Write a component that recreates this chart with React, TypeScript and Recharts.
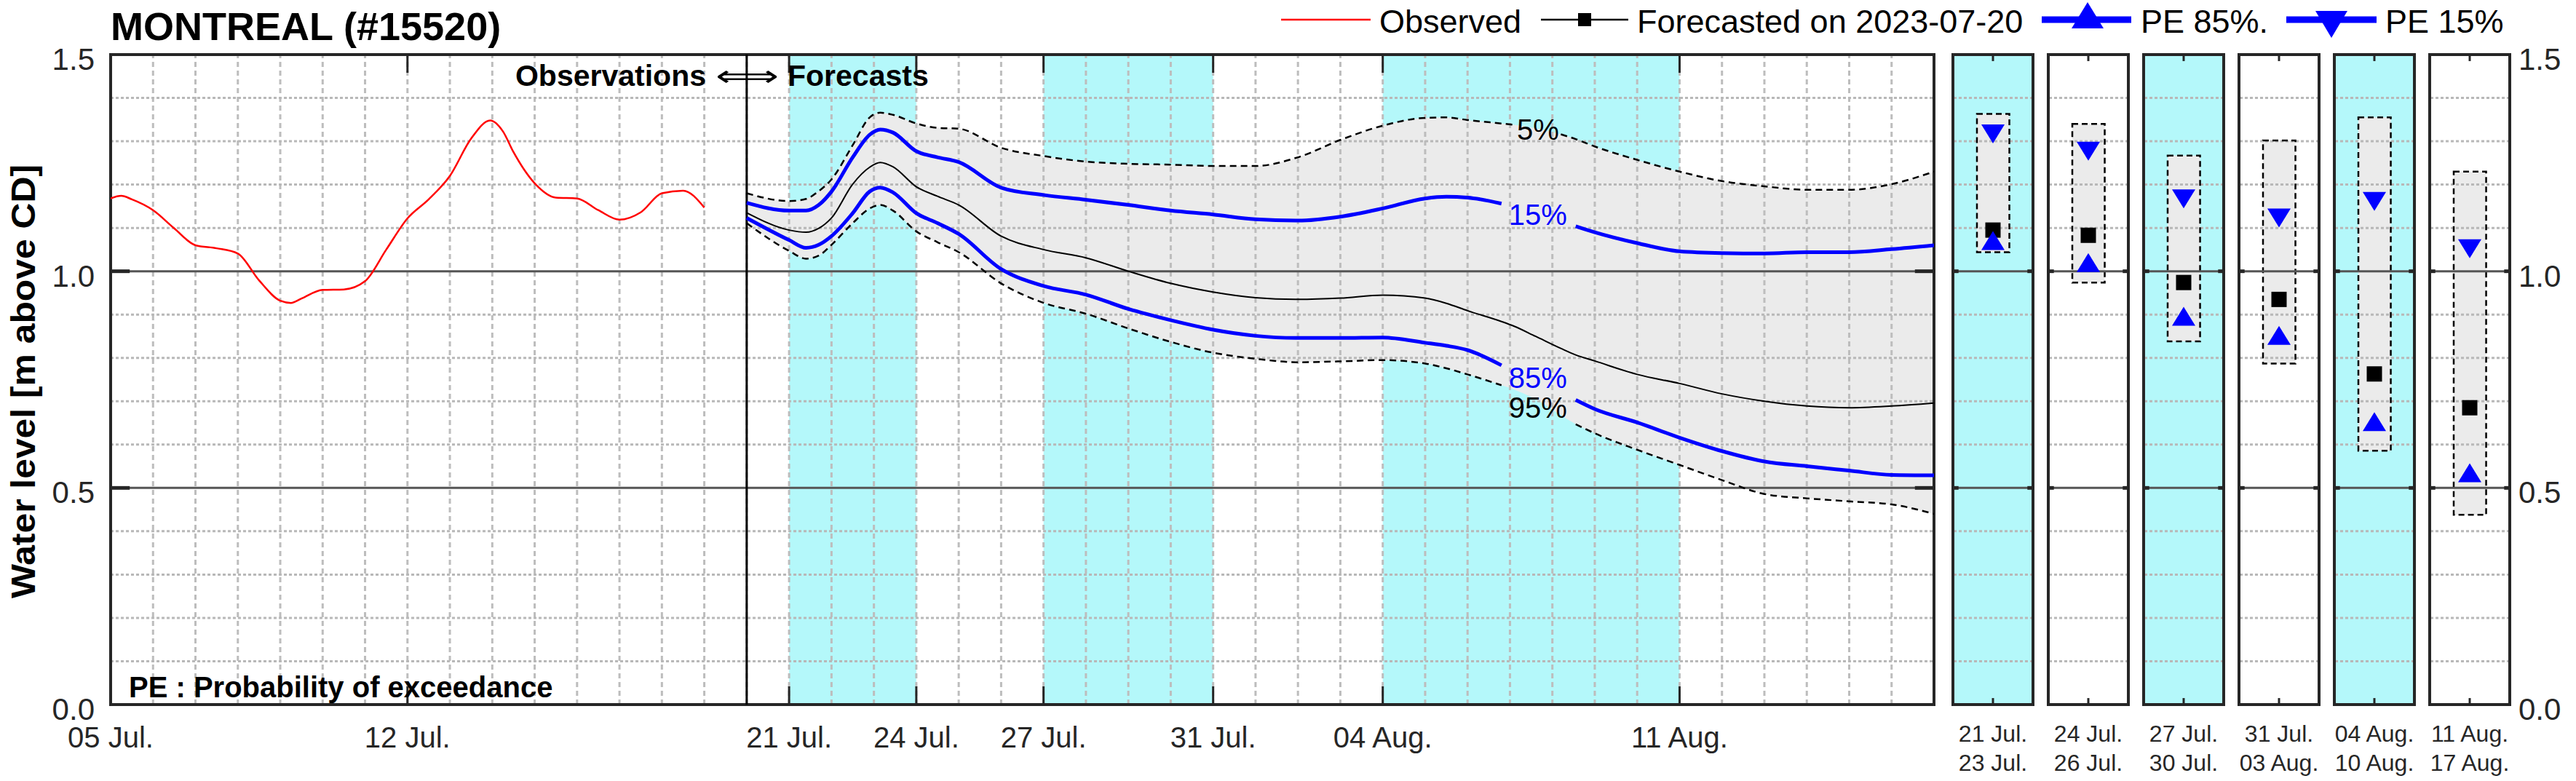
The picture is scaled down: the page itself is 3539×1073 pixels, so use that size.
import React from 'react';
import {
  ComposedChart,
  Line,
  Area,
  XAxis,
  YAxis,
  ReferenceArea,
  ReferenceLine,
  ReferenceDot,
} from 'recharts';

// ---- page geometry (px) ----
const PAGE_W = 3539;
const PAGE_H = 1073;
const PLOT_TOP = 75;
const PLOT_BOTTOM = 968;
const PLOT_LEFT = 152;
const PLOT_RIGHT = 2657;
const MAIN_W = 2700;
const X_AXIS_H = PAGE_H - PLOT_BOTTOM;

const FONT = '"Liberation Sans", Arial, Helvetica, sans-serif';
const CYAN = '#b4f8fa';
const BAND = '#ebebeb';
const FRAME = '#262626';
const BLUE = '#0000ff';
const H_GRID_COLOR = '#b8b8b8';
const V_GRID_COLOR = '#bdbdbd';

// ---- main panel, x = days since 05 Jul. 2023 ----
const X_TICKS = [0, 7, 16, 19, 22, 26, 30, 37];
const X_TICK_LABELS = ['05 Jul.', '12 Jul.', '21 Jul.', '24 Jul.', '27 Jul.', '31 Jul.', '04 Aug.', '11 Aug.'];
const Y_TICKS = [0, 0.5, 1, 1.5];
const H_GRID_LEVELS = [0.1, 0.2, 0.3, 0.4, 0.6, 0.7, 0.8, 0.9, 1.1, 1.2, 1.3, 1.4];
const V_GRID_DAYS = [
  1, 2, 3, 4, 5, 6, 7, 8, 9, 10, 11, 12, 13, 14, 15, 16, 17, 18, 19, 20, 21,
  22, 23, 24, 25, 26, 27, 28, 29, 30, 31, 32, 33, 34, 35, 36, 37, 38, 39, 40, 41, 42,
];
const FORECAST_DAY = 15;
const SHADED_PERIODS = [
  [16, 19],
  [22, 26],
  [30, 37],
];

// observed water level
const OBS_DAYS = [
  0, 0.25, 0.5, 1, 1.5, 2, 2.5, 3, 3.5, 4, 4.25, 4.5, 5, 5.5, 6, 6.5, 7, 7.5, 8, 8.5,
  8.95, 9.25, 9.5, 10, 10.5, 11, 11.5, 12, 12.5, 13, 13.5, 14,
];
const OBS_LEVEL = [
  1.168, 1.174, 1.166, 1.141, 1.099, 1.06, 1.053, 1.041, 0.979, 0.932, 0.927, 0.937, 0.957,
  0.958, 0.977, 1.05, 1.122, 1.166, 1.22, 1.306, 1.348, 1.323, 1.275, 1.203, 1.17, 1.168,
  1.141, 1.119, 1.136, 1.18, 1.186, 1.147,
];

// forecast issued 2023-07-20, probability of exceedance envelopes
const FC_DAYS = [
  15, 16, 16.4, 16.7, 17, 17.5, 17.9, 18.15, 18.45, 19, 19.5, 20, 21, 22, 23, 24, 25, 26, 27,
  28, 29, 30, 31, 31.5, 32, 32.8, 33.1, 33.6, 34.2, 34.55, 35, 36, 37, 38, 39, 40, 41, 42, 43,
];
const P05 = [
  1.18, 1.162, 1.167, 1.185, 1.212, 1.291, 1.355, 1.366, 1.361, 1.341, 1.331, 1.329, 1.285,
  1.266, 1.253, 1.248, 1.246, 1.243, 1.243, 1.263, 1.303, 1.336, 1.354, 1.355, 1.349, 1.341,
  1.338, 1.33, 1.316, 1.305, 1.288, 1.257, 1.23, 1.208, 1.196, 1.188, 1.188, 1.201, 1.23,
];
const P15 = [
  1.158, 1.14, 1.14, 1.153, 1.184, 1.263, 1.315, 1.327, 1.32, 1.277, 1.263, 1.252, 1.193,
  1.176, 1.165, 1.153, 1.14, 1.131, 1.12, 1.117, 1.126, 1.145, 1.168, 1.172, 1.17, 1.156,
  1.148, 1.132, 1.113, 1.104, 1.09, 1.065, 1.046, 1.042, 1.041, 1.044, 1.044, 1.051, 1.06,
];
const P50 = [
  1.135, 1.095, 1.09, 1.099, 1.123, 1.201, 1.24, 1.251, 1.241, 1.195, 1.173, 1.153, 1.081,
  1.05, 1.031, 1.0, 0.972, 0.952, 0.939, 0.935, 0.938, 0.945, 0.938, 0.926, 0.909, 0.884,
  0.873, 0.85, 0.822, 0.807, 0.793, 0.762, 0.741, 0.717, 0.7, 0.689, 0.685, 0.689, 0.696,
];
const P85 = [
  1.123, 1.072, 1.054, 1.061, 1.081, 1.134, 1.184, 1.193, 1.182, 1.134, 1.111, 1.086, 1.005,
  0.966, 0.946, 0.913, 0.887, 0.865, 0.851, 0.846, 0.846, 0.847, 0.835, 0.828, 0.818, 0.783,
  0.77, 0.745, 0.716, 0.703, 0.682, 0.651, 0.616, 0.585, 0.561, 0.55, 0.54, 0.53, 0.529,
];
const P95 = [
  1.111, 1.047, 1.029, 1.036, 1.061, 1.111, 1.145, 1.153, 1.14, 1.092, 1.067, 1.044, 0.972,
  0.927, 0.902, 0.868, 0.837, 0.812, 0.798, 0.79, 0.792, 0.795, 0.787, 0.776, 0.762, 0.737,
  0.727, 0.705, 0.668, 0.647, 0.626, 0.588, 0.553, 0.518, 0.486, 0.476, 0.469, 0.462, 0.44,
];

// where the contour labels interrupt the lines (open intervals, in days)
const GAP_P05 = [33.1, 34.2];
const GAP_LABELLED = [32.8, 34.55];

const PCT_LABELS = [
  { text: '5%', day: 33.66, level: 1.328, color: '#000000' },
  { text: '15%', day: 33.66, level: 1.131, color: BLUE },
  { text: '85%', day: 33.66, level: 0.754, color: BLUE },
  { text: '95%', day: 33.66, level: 0.686, color: '#000000' },
];

// ---- period summary panels ----
const PANEL_FROM = ['21 Jul.', '24 Jul.', '27 Jul.', '31 Jul.', '04 Aug.', '11 Aug.'];
const PANEL_TO = ['23 Jul.', '26 Jul.', '30 Jul.', '03 Aug.', '10 Aug.', '17 Aug.'];
const PANEL_HIGH = [1.363, 1.34, 1.267, 1.302, 1.355, 1.23];
const PANEL_LOW = [1.044, 0.974, 0.838, 0.787, 0.586, 0.438];
const PANEL_PE15 = [1.317, 1.277, 1.167, 1.123, 1.161, 1.052];
const PANEL_MEDIAN = [1.095, 1.083, 0.974, 0.935, 0.763, 0.685];
const PANEL_PE85 = [1.071, 1.02, 0.896, 0.852, 0.653, 0.535];
const PANEL_SHADED = [true, false, true, false, true, false];

const PANEL_LEFT0 = 2683;
const PANEL_STEP = 131;
const PANEL_W = 110;
const PANEL_PAD = 12;
const RIGHT_AXIS_W = 89;

const inGap = (day: number, gap: number[]) => day > gap[0] && day < gap[1];

const OBS_ROWS = OBS_DAYS.map((day, i) => ({ day, obs: OBS_LEVEL[i] }));
const FC_ROWS = FC_DAYS.map((day, i) => ({
  day,
  band: [P95[i], P05[i]],
  p05: inGap(day, GAP_P05) ? null : P05[i],
  p15: inGap(day, GAP_LABELLED) ? null : P15[i],
  p50: P50[i],
  p85: inGap(day, GAP_LABELLED) ? null : P85[i],
  p95: inGap(day, GAP_LABELLED) ? null : P95[i],
}));
const ALL_ROWS = [...OBS_ROWS, ...FC_ROWS];

const mainMargin = { top: PLOT_TOP, right: MAIN_W - PLOT_RIGHT, left: 0, bottom: 0 };

const renderDateTick = (props: any) => {
  const { x, y, payload } = props;
  const label = X_TICK_LABELS[X_TICKS.indexOf(payload.value)];
  return (
    <text x={x} y={y + 59} textAnchor="middle" fontSize={40} fontFamily={FONT} fill={FRAME}>
      {label}
    </text>
  );
};

const renderLevelTick = (anchor: 'start' | 'end') => (props: any) => {
  const { x, y, payload } = props;
  return (
    <text x={x} y={y + 21} textAnchor={anchor} fontSize={42} fontFamily={FONT} fill={FRAME}>
      {Number(payload.value).toFixed(1)}
    </text>
  );
};

function mainAxes(labels: boolean) {
  return [
    <XAxis
      key="x"
      dataKey="day"
      type="number"
      domain={[0, 43]}
      allowDataOverflow
      ticks={X_TICKS}
      interval={0}
      height={X_AXIS_H}
      axisLine={false}
      tickLine={false}
      tickSize={0}
      tickMargin={0}
      tick={labels ? renderDateTick : false}
    />,
    <YAxis
      key="y"
      type="number"
      domain={[0, 1.5]}
      allowDataOverflow
      ticks={Y_TICKS}
      interval={0}
      width={PLOT_LEFT}
      axisLine={false}
      tickLine={false}
      tickSize={0}
      tickMargin={22}
      tick={labels ? renderLevelTick('end') : false}
    />,
  ];
}

const layer = (left: number): React.CSSProperties => ({ position: 'absolute', left, top: 0 });

function MainChart() {
  const tickLen = 0.042;
  return (
    <>
      {/* shaded periods */}
      <div style={layer(0)}>
        <ComposedChart width={MAIN_W} height={PAGE_H} data={FC_ROWS} margin={mainMargin}>
          {mainAxes(false)}
          {SHADED_PERIODS.map(([a, b]) => (
            <ReferenceArea key={a} x1={a} x2={b} y1={0} y2={1.5} fill={CYAN} fillOpacity={1} stroke="none" />
          ))}
        </ComposedChart>
      </div>
      {/* 5%-95% envelope */}
      <div style={layer(0)}>
        <ComposedChart width={MAIN_W} height={PAGE_H} data={FC_ROWS} margin={mainMargin}>
          {mainAxes(false)}
          <Area
            dataKey="band"
            type="monotone"
            fill={BAND}
            fillOpacity={1}
            stroke="none"
            isAnimationActive={false}
            activeDot={false}
          />
        </ComposedChart>
      </div>
      {/* grid on top of the fills */}
      <div style={layer(0)}>
        <ComposedChart width={MAIN_W} height={PAGE_H} data={FC_ROWS} margin={mainMargin}>
          {mainAxes(false)}
          {V_GRID_DAYS.map((d) => (
            <ReferenceLine key={`v${d}`} x={d} stroke={V_GRID_COLOR} strokeWidth={3} strokeDasharray="7 5" />
          ))}
          {H_GRID_LEVELS.map((v) => (
            <ReferenceLine key={`h${v}`} y={v} stroke={H_GRID_COLOR} strokeWidth={3} strokeDasharray="4 3" />
          ))}
        </ComposedChart>
      </div>
      {/* series, frame and labels */}
      <div style={layer(0)}>
        <ComposedChart width={MAIN_W} height={PAGE_H} data={ALL_ROWS} margin={mainMargin}>
          {mainAxes(true)}
          <ReferenceLine y={1} stroke="#555555" strokeWidth={3} />
          <ReferenceLine y={0.5} stroke="#555555" strokeWidth={3} />
          {[0.5, 1].map((v) => (
            <ReferenceLine key={`l${v}`} segment={[{ x: 0, y: v }, { x: 0.45, y: v }]} stroke={FRAME} strokeWidth={5} />
          ))}
          {[0.5, 1].map((v) => (
            <ReferenceLine key={`r${v}`} segment={[{ x: 42.55, y: v }, { x: 43, y: v }]} stroke={FRAME} strokeWidth={5} />
          ))}
          <ReferenceLine x={FORECAST_DAY} stroke="#000000" strokeWidth={3} />
          {X_TICKS.slice(1).map((d) => (
            <ReferenceLine key={`b${d}`} segment={[{ x: d, y: 0 }, { x: d, y: tickLen }]} stroke={FRAME} strokeWidth={3} />
          ))}
          {X_TICKS.slice(1).map((d) => (
            <ReferenceLine key={`t${d}`} segment={[{ x: d, y: 1.5 - tickLen }, { x: d, y: 1.5 }]} stroke={FRAME} strokeWidth={3} />
          ))}
          <Line dataKey="obs" type="monotone" stroke="#ff0000" strokeWidth={2.5} dot={false} activeDot={false} isAnimationActive={false} />
          <Line dataKey="p05" type="monotone" stroke="#000000" strokeWidth={2.5} strokeDasharray="9 6" dot={false} activeDot={false} isAnimationActive={false} />
          <Line dataKey="p95" type="monotone" stroke="#000000" strokeWidth={2.5} strokeDasharray="9 6" dot={false} activeDot={false} isAnimationActive={false} />
          <Line dataKey="p50" type="monotone" stroke="#000000" strokeWidth={2} dot={false} activeDot={false} isAnimationActive={false} />
          <Line dataKey="p15" type="monotone" stroke={BLUE} strokeWidth={5} dot={false} activeDot={false} isAnimationActive={false} />
          <Line dataKey="p85" type="monotone" stroke={BLUE} strokeWidth={5} dot={false} activeDot={false} isAnimationActive={false} />
          {PCT_LABELS.map((l) => (
            <ReferenceDot
              key={l.text}
              x={l.day}
              y={l.level}
              r={0}
              fill="none"
              stroke="none"
              label={{ value: l.text, position: 'center', fill: l.color, fontSize: 40, fontFamily: FONT }}
            />
          ))}
          <ReferenceArea x1={0} x2={43} y1={0} y2={1.5} fill="none" fillOpacity={0} stroke={FRAME} strokeWidth={4} />
        </ComposedChart>
      </div>
    </>
  );
}

// ---- summary panel markers ----
const downTriangle = (props: any) => {
  const { cx, cy, index } = props;
  if (cx == null || cy == null) return <g key={`dn${index}`} />;
  return <path key={`dn${index}`} d={`M${cx - 16},${cy - 13}L${cx + 16},${cy - 13}L${cx},${cy + 13}Z`} fill={BLUE} />;
};
const upTriangle = (props: any) => {
  const { cx, cy, index } = props;
  if (cx == null || cy == null) return <g key={`up${index}`} />;
  return <path key={`up${index}`} d={`M${cx - 16},${cy + 13}L${cx + 16},${cy + 13}L${cx},${cy - 13}Z`} fill={BLUE} />;
};
const squareMarker = (props: any) => {
  const { cx, cy, index } = props;
  if (cx == null || cy == null) return <g key={`sq${index}`} />;
  return <rect key={`sq${index}`} x={cx - 10.5} y={cy - 10.5} width={21} height={21} fill="#000000" />;
};

const renderPanelTick = (i: number) => (props: any) => {
  const { x, y } = props;
  return (
    <g>
      <text x={x} y={y + 51} textAnchor="middle" fontSize={32} fontFamily={FONT} fill={FRAME}>
        {PANEL_FROM[i]}
      </text>
      <text x={x} y={y + 91} textAnchor="middle" fontSize={32} fontFamily={FONT} fill={FRAME}>
        {PANEL_TO[i]}
      </text>
    </g>
  );
};

function panelAxes(i: number, labels: boolean) {
  const isLast = i === PANEL_FROM.length - 1;
  return [
    <XAxis
      key="x"
      dataKey="pos"
      type="number"
      domain={[0, 1]}
      allowDataOverflow
      ticks={[0.5]}
      interval={0}
      height={X_AXIS_H}
      axisLine={false}
      tickLine={false}
      tickSize={0}
      tickMargin={0}
      tick={labels ? renderPanelTick(i) : false}
    />,
    <YAxis
      key="y"
      type="number"
      orientation="right"
      hide={!isLast}
      domain={[0, 1.5]}
      allowDataOverflow
      ticks={Y_TICKS}
      interval={0}
      width={RIGHT_AXIS_W}
      axisLine={false}
      tickLine={false}
      tickSize={0}
      tickMargin={12}
      tick={labels ? renderLevelTick('start') : false}
    />,
  ];
}

function Panel({ i }: { i: number }) {
  const isLast = i === PANEL_FROM.length - 1;
  const width = PANEL_PAD + PANEL_W + (isLast ? RIGHT_AXIS_W : PANEL_PAD);
  const margin = { top: PLOT_TOP, left: PANEL_PAD, right: isLast ? 0 : PANEL_PAD, bottom: 0 };
  const left = PANEL_LEFT0 + i * PANEL_STEP - PANEL_PAD;
  const rows = [{ pos: 0.5, pe15: PANEL_PE15[i], median: PANEL_MEDIAN[i], pe85: PANEL_PE85[i] }];
  const tickLen = 0.015;
  const endTick = 0.07;
  return (
    <>
      <div style={layer(left)}>
        <ComposedChart width={width} height={PAGE_H} data={rows} margin={margin}>
          {panelAxes(i, false)}
          {PANEL_SHADED[i] && <ReferenceArea x1={0} x2={1} y1={0} y2={1.5} fill={CYAN} fillOpacity={1} stroke="none" />}
        </ComposedChart>
      </div>
      <div style={layer(left)}>
        <ComposedChart width={width} height={PAGE_H} data={rows} margin={margin}>
          {panelAxes(i, false)}
          <ReferenceArea x1={0.3} x2={0.705} y1={PANEL_LOW[i]} y2={PANEL_HIGH[i]} fill={BAND} fillOpacity={1} stroke="none" />
        </ComposedChart>
      </div>
      <div style={layer(left)}>
        <ComposedChart width={width} height={PAGE_H} data={rows} margin={margin}>
          {panelAxes(i, false)}
          {H_GRID_LEVELS.map((v) => (
            <ReferenceLine key={`h${v}`} y={v} stroke={H_GRID_COLOR} strokeWidth={3} strokeDasharray="4 3" />
          ))}
        </ComposedChart>
      </div>
      <div style={layer(left)}>
        <ComposedChart width={width} height={PAGE_H} data={rows} margin={margin}>
          {panelAxes(i, true)}
          <ReferenceLine y={1} stroke="#555555" strokeWidth={3} />
          <ReferenceLine y={0.5} stroke="#555555" strokeWidth={3} />
          {[0.5, 1].map((v) => (
            <ReferenceLine key={`l${v}`} segment={[{ x: 0, y: v }, { x: endTick, y: v }]} stroke={FRAME} strokeWidth={5} />
          ))}
          {[0.5, 1].map((v) => (
            <ReferenceLine key={`r${v}`} segment={[{ x: 1 - endTick, y: v }, { x: 1, y: v }]} stroke={FRAME} strokeWidth={5} />
          ))}
          <ReferenceLine segment={[{ x: 0.5, y: 0 }, { x: 0.5, y: tickLen }]} stroke={FRAME} strokeWidth={3} />
          <ReferenceLine segment={[{ x: 0.5, y: 1.5 - tickLen }, { x: 0.5, y: 1.5 }]} stroke={FRAME} strokeWidth={3} />
          <ReferenceArea
            x1={0.3}
            x2={0.705}
            y1={PANEL_LOW[i]}
            y2={PANEL_HIGH[i]}
            fill="none"
            fillOpacity={0}
            stroke="#000000"
            strokeWidth={2.5}
            strokeDasharray="8 5"
          />
          <ReferenceArea x1={0} x2={1} y1={0} y2={1.5} fill="none" fillOpacity={0} stroke={FRAME} strokeWidth={4} />
          <Line dataKey="pe15" stroke="none" dot={downTriangle} activeDot={false} isAnimationActive={false} />
          <Line dataKey="median" stroke="none" dot={squareMarker} activeDot={false} isAnimationActive={false} />
          <Line dataKey="pe85" stroke="none" dot={upTriangle} activeDot={false} isAnimationActive={false} />
        </ComposedChart>
      </div>
    </>
  );
}

function Annotations() {
  return (
    <svg
      width={PAGE_W}
      height={PAGE_H}
      style={{ position: 'absolute', left: 0, top: 0, pointerEvents: 'none' }}
      fontFamily={FONT}
    >
      <text x={152} y={55} fontSize={54} fontWeight="bold" fill="#000">
        MONTREAL (#15520)
      </text>
      <text
        x={48}
        y={524}
        transform="rotate(-90 48 524)"
        textAnchor="middle"
        fontSize={46}
        fontWeight="bold"
        textLength={596}
        lengthAdjust="spacingAndGlyphs"
        fill="#000"
      >
        Water level [m above CD]
      </text>
      <text x={970} y={118} textAnchor="end" fontSize={41} fontWeight="bold" fill="#000">
        Observations
      </text>
      <text x={983} y={118} fontSize={40} fontFamily='"DejaVu Sans", sans-serif' textLength={87} lengthAdjust="spacingAndGlyphs" fill="#000">
        ⟺
      </text>
      <text x={1082} y={118} fontSize={41} fontWeight="bold" fill="#000">
        Forecasts
      </text>
      <text x={177} y={958} fontSize={40} fontWeight="bold" fill="#000">
        PE : Probability of exceedance
      </text>

      {/* legend */}
      <line x1={1760} y1={27} x2={1883} y2={27} stroke="#ff0000" strokeWidth={2.5} />
      <text x={1895} y={45} fontSize={45} fill="#000">Observed</text>
      <line x1={2117} y1={27} x2={2237} y2={27} stroke="#000" strokeWidth={2.5} />
      <rect x={2168} y={18} width={18} height={18} fill="#000" />
      <text x={2249} y={45} fontSize={45} fill="#000">Forecasted on 2023-07-20</text>
      <line x1={2805} y1={27} x2={2928} y2={27} stroke={BLUE} strokeWidth={9} />
      <path d="M2846,39L2890,39L2868,3Z" fill={BLUE} />
      <text x={2941} y={45} fontSize={45} fill="#000">PE 85%.</text>
      <line x1={3141} y1={27} x2={3265} y2={27} stroke={BLUE} strokeWidth={9} />
      <path d="M3181,15L3225,15L3203,52Z" fill={BLUE} />
      <text x={3277} y={45} fontSize={45} fill="#000">PE 15%</text>
    </svg>
  );
}

export default function App() {
  return (
    <div
      style={{
        position: 'absolute',
        left: 0,
        top: 0,
        width: PAGE_W,
        height: PAGE_H,
        background: '#ffffff',
        overflow: 'hidden',
        fontFamily: FONT,
      }}
    >
      <MainChart />
      {PANEL_FROM.map((_, i) => (
        <Panel key={i} i={i} />
      ))}
      <Annotations />
    </div>
  );
}
